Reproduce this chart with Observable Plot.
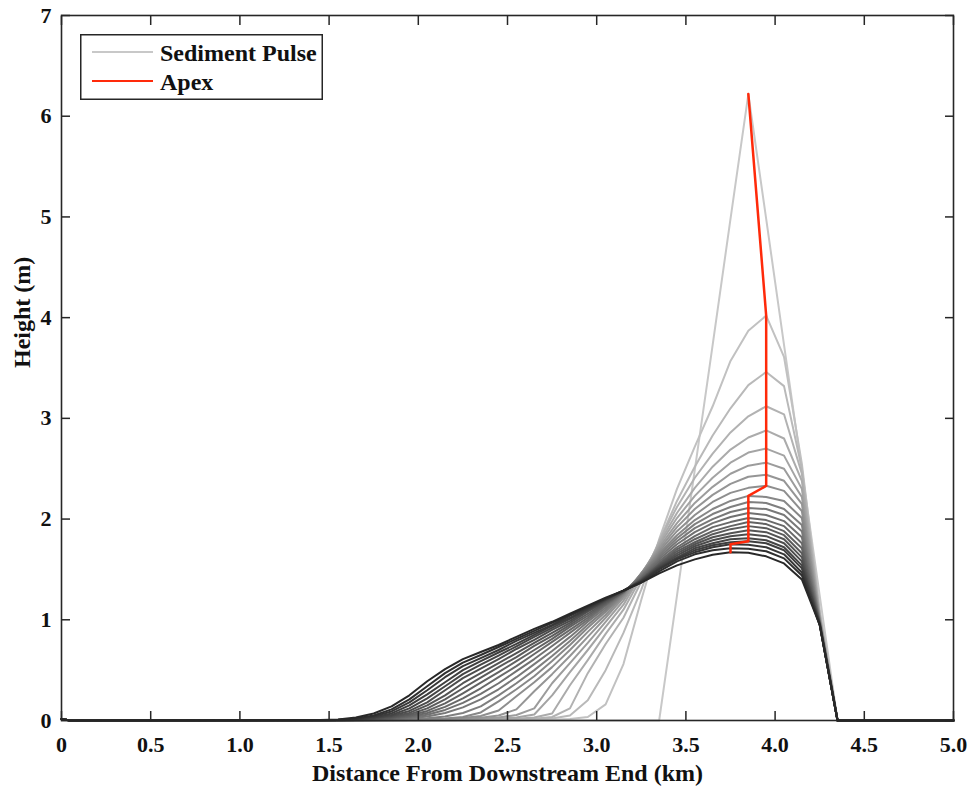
<!DOCTYPE html>
<html>
<head>
<meta charset="utf-8">
<script src="https://cdn.jsdelivr.net/npm/d3@7"></script>
<script src="https://cdn.jsdelivr.net/npm/@observablehq/plot@0.6"></script>
<style>
  body { margin: 0; background: #fff; }
  #wrap { position: relative; width: 975px; height: 790px; }
  #legend { position: absolute; left: 80px; top: 34px; }
</style>
</head>
<body>
<div id="wrap"></div>
<script>
// ---------- data ----------
const gridKm = [0, 0.05, 1.45, 1.55, 1.65, 1.75, 1.85, 1.95, 2.05, 2.15, 2.25, 2.35, 2.45, 2.55, 2.65, 2.75, 2.85, 2.95, 3.05, 3.15, 3.25, 3.35, 3.45, 3.55, 3.65, 3.75, 3.85, 3.95, 4.05, 4.15, 4.25, 4.35, 5.0];

const pulse00 = [0.015,0, 0,0,0,0,0,0,0,0,0,0,0,0,0,0,0,0,0,0, 0,0,1.24,2.49,3.73,4.98,6.22,4.98,3.73,2.49,1.24,0, 0];
const pulse01 = [0.015,0, 0,0,0,0,0,0,0,0,0,0,0.001,0.002,0.004,0.008,0.015,0.035,0.16,0.56, 1.2,1.8,2.3,2.72,3.12,3.57,3.87,4.02,3.61,2.55,1.10,0, 0];
const pulse02 = [0.015,0, 0,0,0,0,0,0,0,0,0.001,0.002,0.004,0.006,0.01,0.02,0.05,0.2,0.5,0.87, 1.30,1.78,2.18,2.52,2.83,3.10,3.33,3.46,3.32,2.50,1.07,0, 0];
const pulse03 = [0.015,0, 0,0,0,0,0,0,0,0.001,0.002,0.004,0.007,0.011,0.018,0.035,0.12,0.47,0.76,1.02, 1.38,1.78,2.12,2.41,2.65,2.86,3.02,3.12,3.04,2.45,1.05,0, 0];
const pulse04 = [0.015,0, 0,0,0,0,0,0,0.001,0.002,0.004,0.007,0.011,0.018,0.03,0.07,0.35,0.60,0.86,1.10, 1.42,1.76,2.06,2.31,2.52,2.69,2.81,2.88,2.80,2.38,1.04,0, 0];
const pulse05 = [0.015,0, 0,0,0,0,0,0.001,0.002,0.004,0.007,0.011,0.018,0.03,0.06,0.25,0.48,0.70,0.93,1.15, 1.45,1.74,2.01,2.23,2.41,2.56,2.66,2.70,2.63,2.30,1.03,0, 0];
const pulse06 = [0.015,0, 0,0,0,0,0.001,0.002,0.004,0.007,0.011,0.018,0.03,0.055,0.12,0.37,0.57,0.77,0.98,1.19, 1.46,1.72,1.96,2.16,2.32,2.45,2.53,2.56,2.50,2.22,1.02,0, 0];
const pulse07 = [0.015,0, 0,0,0,0,0.002,0.004,0.007,0.011,0.017,0.028,0.05,0.11,0.29,0.46,0.64,0.83,1.02,1.22, 1.46,1.70,1.92,2.10,2.24,2.35,2.42,2.44,2.38,2.15,1.01,0, 0];
const pulse08 = [0.015,0, 0,0,0,0.001,0.003,0.006,0.01,0.016,0.025,0.045,0.10,0.24,0.38,0.53,0.70,0.88,1.05,1.24, 1.46,1.68,1.88,2.04,2.17,2.26,2.31,2.33,2.28,2.08,1.00,0, 0];
const pulse09 = [0.015,0, 0,0,0.001,0.002,0.005,0.008,0.012,0.02,0.035,0.08,0.19,0.31,0.44,0.59,0.75,0.92,1.08,1.25, 1.46,1.66,1.84,1.99,2.10,2.18,2.23,2.22,2.18,2.01,0.99,0, 0];
const pulse10 = [0.015,0, 0,0,0.001,0.003,0.007,0.013,0.022,0.04,0.075,0.14,0.25,0.37,0.50,0.64,0.79,0.95,1.10,1.26, 1.45,1.64,1.81,1.95,2.05,2.12,2.17,2.16,2.10,1.94,0.99,0, 0];
const pulse11 = [0.015,0, 0,0,0.002,0.004,0.01,0.02,0.04,0.075,0.13,0.21,0.31,0.43,0.56,0.69,0.83,0.98,1.12,1.27, 1.44,1.62,1.78,1.91,2.00,2.07,2.11,2.10,2.04,1.88,0.98,0, 0];
const pulse12 = [0.015,0, 0,0.001,0.002,0.006,0.013,0.028,0.057,0.105,0.175,0.265,0.37,0.49,0.61,0.74,0.87,1.00,1.14,1.27, 1.43,1.60,1.75,1.87,1.96,2.02,2.06,2.04,1.98,1.82,0.98,0, 0];
const pulse13 = [0.015,0, 0,0.001,0.003,0.008,0.017,0.037,0.075,0.135,0.22,0.32,0.43,0.54,0.66,0.78,0.90,1.02,1.15,1.28, 1.42,1.58,1.72,1.83,1.92,1.97,2.01,1.99,1.93,1.76,0.97,0, 0];
const pulse14 = [0.015,0, 0,0.001,0.004,0.01,0.022,0.048,0.095,0.17,0.27,0.375,0.48,0.59,0.70,0.81,0.93,1.04,1.16,1.28, 1.41,1.56,1.70,1.80,1.88,1.93,1.97,1.95,1.88,1.71,0.97,0, 0];
const pulse15 = [0.015,0, 0.001,0.002,0.005,0.012,0.028,0.06,0.12,0.21,0.32,0.425,0.53,0.63,0.74,0.84,0.95,1.06,1.17,1.28, 1.40,1.55,1.68,1.77,1.85,1.90,1.93,1.91,1.84,1.66,0.97,0, 0];
const pulse16 = [0.015,0, 0.001,0.002,0.006,0.015,0.035,0.075,0.15,0.25,0.37,0.47,0.57,0.67,0.77,0.87,0.97,1.08,1.18,1.28, 1.40,1.54,1.66,1.75,1.82,1.86,1.89,1.87,1.80,1.62,0.96,0, 0];
const pulse17 = [0.015,0, 0.001,0.003,0.008,0.02,0.045,0.095,0.18,0.30,0.42,0.515,0.61,0.71,0.80,0.90,0.99,1.09,1.19,1.29, 1.39,1.53,1.64,1.73,1.79,1.83,1.85,1.83,1.76,1.58,0.96,0, 0];
const pulse18 = [0.015,0, 0.002,0.004,0.01,0.025,0.055,0.12,0.22,0.34,0.46,0.555,0.645,0.735,0.83,0.92,1.01,1.10,1.20,1.29, 1.39,1.52,1.62,1.71,1.76,1.80,1.81,1.79,1.72,1.54,0.96,0, 0];
const pulse19 = [0.015,0, 0.002,0.005,0.012,0.03,0.07,0.15,0.26,0.38,0.50,0.59,0.675,0.76,0.85,0.94,1.02,1.11,1.20,1.29, 1.38,1.51,1.61,1.69,1.74,1.77,1.78,1.76,1.69,1.51,0.96,0, 0];
const pulse20 = [0.015,0, 0.003,0.006,0.015,0.04,0.09,0.18,0.30,0.43,0.54,0.62,0.70,0.79,0.87,0.95,1.04,1.12,1.21,1.29, 1.38,1.50,1.60,1.67,1.72,1.75,1.745,1.72,1.65,1.47,0.95,0, 0];
const pulse21 = [0.015,0, 0.004,0.008,0.02,0.05,0.11,0.21,0.34,0.47,0.575,0.65,0.73,0.81,0.89,0.97,1.05,1.13,1.21,1.29, 1.37,1.48,1.58,1.65,1.69,1.71,1.705,1.68,1.61,1.44,0.95,0, 0];
const pulse22 = [0.015,0, 0.005,0.01,0.03,0.07,0.14,0.25,0.39,0.51,0.61,0.68,0.75,0.83,0.91,0.98,1.06,1.14,1.22,1.29, 1.37,1.46,1.54,1.60,1.645,1.67,1.665,1.63,1.56,1.40,0.95,0, 0];

const pulses = [pulse00, pulse01, pulse02, pulse03, pulse04, pulse05, pulse06, pulse07, pulse08, pulse09, pulse10, pulse11,
                pulse12, pulse13, pulse14, pulse15, pulse16, pulse17, pulse18, pulse19, pulse20, pulse21, pulse22];

const xTicks = [0, 0.5, 1.0, 1.5, 2.0, 2.5, 3.0, 3.5, 4.0, 4.5, 5.0];
const xTickLabels = ["0", "0.5", "1.0", "1.5", "2.0", "2.5", "3.0", "3.5", "4.0", "4.5", "5.0"];
const yTicks = [0, 1, 2, 3, 4, 5, 6, 7];
const yTickLabels = ["0", "1", "2", "3", "4", "5", "6", "7"];
const xTitle = "Distance From Downstream End (km)";
const yTitle = "Height (m)";
const legendLabels = ["Sediment Pulse", "Apex"];

// ---------- styling ----------
const FONT = "'Liberation Serif', 'Times New Roman', serif";
const INK = "#262626";
const RED = "#ff2a0a";
const shade = t => d3.interpolateRgb("#c8c8c8", "#282828")(t / (pulses.length - 1));

const rows = pulses.map((vals, t) => vals.map((h, i) => ({t, x: gridKm[i], h})));
const apex = pulses.map((vals, t) => { const i = d3.maxIndex(vals); return {t, x: gridKm[i], h: vals[i]}; });

const marks = [];
rows.forEach((r, t) => marks.push(Plot.line(r, {x: "x", y: "h", stroke: shade(t), strokeWidth: 2})));
marks.push(Plot.line(apex, {x: "x", y: "h", stroke: RED, strokeWidth: 2.5}));
marks.push(Plot.frame({stroke: INK, strokeWidth: 1.6}));

const noText = () => "";
const tickStyle = {tickSize: 9, tickFormat: noText, stroke: INK, strokeWidth: 1.5, label: null};
marks.push(Plot.axisX(xTicks, {anchor: "bottom", dy: -9, ...tickStyle}));
marks.push(Plot.axisX(xTicks, {anchor: "top", dy: 9, ...tickStyle}));
marks.push(Plot.axisY(yTicks, {anchor: "left", dx: 9, ...tickStyle}));
marks.push(Plot.axisY(yTicks, {anchor: "right", dx: -9, ...tickStyle}));

const labelStyle = {tickSize: 0, fontSize: 22, fontWeight: "bold", fontFamily: FONT, fill: "#111", label: null};
marks.push(Plot.axisX(xTicks, {anchor: "bottom", tickPadding: 16, tickFormat: d => xTickLabels[xTicks.indexOf(d)], ...labelStyle}));
marks.push(Plot.axisY(yTicks, {anchor: "left", tickPadding: 10, tickFormat: d => yTickLabels[yTicks.indexOf(d)], ...labelStyle}));

marks.push(Plot.text([xTitle], {text: d => d, frameAnchor: "bottom", dy: 53, lineAnchor: "middle",
  fontSize: 24, fontWeight: "bold", fontFamily: FONT, fill: "#111"}));
marks.push(Plot.text([yTitle], {text: d => d, frameAnchor: "left", dx: -39, rotate: -90, lineAnchor: "middle",
  fontSize: 24, fontWeight: "bold", fontFamily: FONT, fill: "#111"}));

const chart = Plot.plot({
  width: 975,
  height: 790,
  marginLeft: 61,
  marginRight: 22,
  marginTop: 15,
  marginBottom: 70,
  x: {domain: [0, 5]},
  y: {domain: [0, 7]},
  style: {fontFamily: FONT, background: "#fff", overflow: "visible"},
  marks
});

const wrap = document.getElementById("wrap");
wrap.appendChild(chart);

// ---------- legend (inside the axes, top-left) ----------
const ns = "http://www.w3.org/2000/svg";
const leg = document.createElement("div");
leg.id = "legend";
const ls = document.createElementNS(ns, "svg");
ls.setAttribute("width", 243);
ls.setAttribute("height", 66);
const box = document.createElementNS(ns, "rect");
box.setAttribute("x", 0.75); box.setAttribute("y", 0.75);
box.setAttribute("width", 241.5); box.setAttribute("height", 64.5);
box.setAttribute("fill", "#fff"); box.setAttribute("stroke", INK); box.setAttribute("stroke-width", 1.5);
ls.appendChild(box);
const legendColors = [shade(0), RED];
legendLabels.forEach((lab, i) => {
  const yLine = 18 + i * 29;
  const ln = document.createElementNS(ns, "line");
  ln.setAttribute("x1", 12); ln.setAttribute("x2", 73);
  ln.setAttribute("y1", yLine); ln.setAttribute("y2", yLine);
  ln.setAttribute("stroke", legendColors[i]); ln.setAttribute("stroke-width", 2);
  ls.appendChild(ln);
  const tx = document.createElementNS(ns, "text");
  tx.setAttribute("x", 80); tx.setAttribute("y", yLine + 9);
  tx.setAttribute("font-family", FONT); tx.setAttribute("font-size", 24);
  tx.setAttribute("font-weight", "bold"); tx.setAttribute("fill", "#111");
  tx.textContent = lab;
  ls.appendChild(tx);
});
leg.appendChild(ls);
wrap.appendChild(leg);
</script>
</body>
</html>
